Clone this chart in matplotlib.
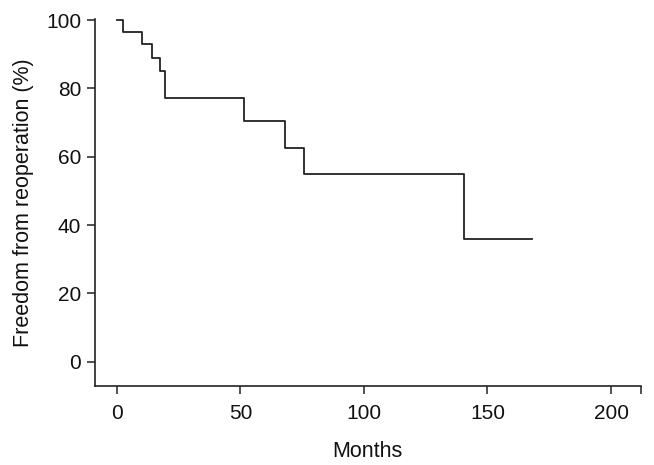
import matplotlib
matplotlib.use("Agg")
import matplotlib.pyplot as plt
from matplotlib.ticker import FixedLocator

# Kaplan-Meier step data (months, freedom from reoperation %)
times = [0, 2.7, 10.2, 14.2, 17.5, 19.7, 51.3, 67.9, 75.7, 140.3, 168.0]
surv = [100, 96.4, 93.0, 89.0, 85.0, 77.3, 70.5, 62.6, 55.0, 36.0, 36.0]

xticks = [0, 50, 100, 150, 200]
yticks = [0, 20, 40, 60, 80, 100]

plt.rcParams['font.family'] = ['Liberation Sans', 'DejaVu Sans']

fig = plt.figure(figsize=(6.54, 4.65), dpi=100)
ax = fig.add_axes([0.1453, 0.1705, 0.9797 - 0.1453, 0.959 - 0.1705])

ax.step(times, surv, where='post', color='#222222', lw=1.3)

ax.set_xlim(-8.8, 212)
ax.set_ylim(-7, 100.3)
ax.set_xticks(xticks)
ax.set_yticks(yticks)
ax.xaxis.set_minor_locator(FixedLocator([212]))
for s in ['top', 'right']:
    ax.spines[s].set_visible(False)
for s in ['left', 'bottom']:
    ax.spines[s].set_linewidth(1.2)
    ax.spines[s].set_color('#222222')
ax.tick_params(axis='both', which='both', direction='out', length=6, width=1.1,
               color='#222222', labelsize=15, labelcolor='#111111')
ax.tick_params(axis='x', pad=7)
ax.tick_params(axis='y', pad=4)

ax.set_xlabel('Months', fontsize=15.5, labelpad=13, color='#111111')
ax.set_ylabel('Freedom from reoperation (%)', fontsize=15.5, labelpad=9, color='#111111')

fig.savefig('out.png', dpi=100)
